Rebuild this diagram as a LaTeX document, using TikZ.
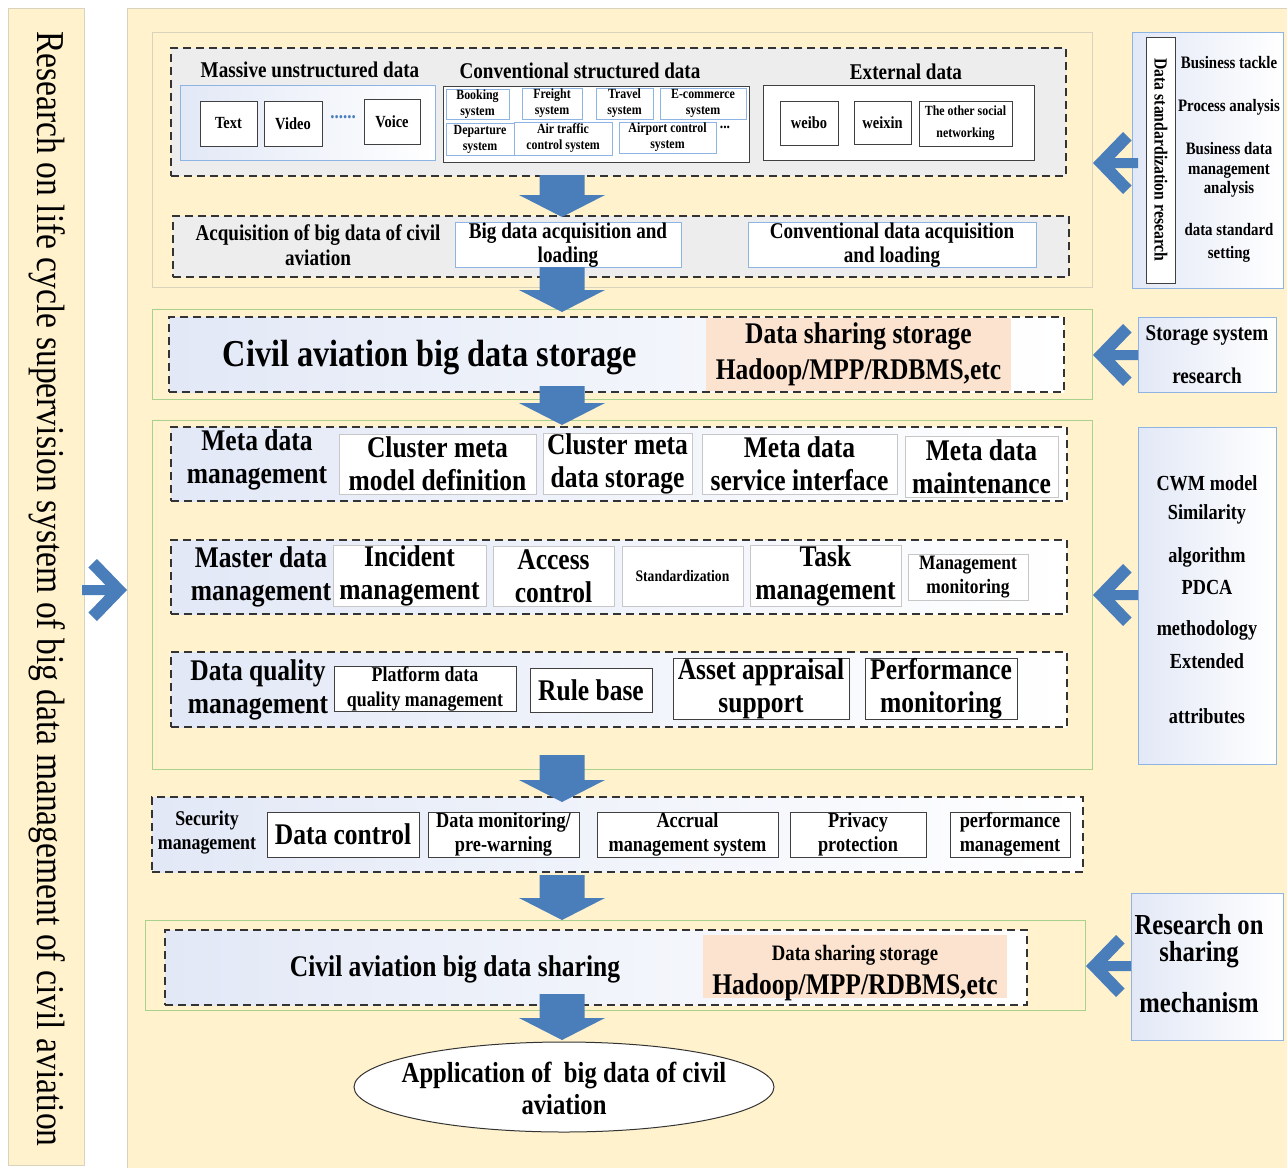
\documentclass[tikz,border=0pt]{standalone}
\usepackage{fontspec}
\setmainfont{Liberation Serif}[FakeStretch=0.85]
\usetikzlibrary{shapes.geometric}
\definecolor{ylw}{HTML}{FFF2CC}
\definecolor{ylwb}{HTML}{D9D2BC}
\definecolor{grn}{HTML}{A9D18E}
\definecolor{gpan}{HTML}{EDEDED}
\definecolor{arw}{HTML}{4A7EBB}
\definecolor{lbl}{HTML}{8EB4E3}
\definecolor{lav}{HTML}{E2E8F6}
\definecolor{pch}{HTML}{FBE3D0}
\newcommand\myfs[2]{\fontsize{#1}{#2}\selectfont\bfseries}
\newcommand\mybox[7]{\node[#6, minimum width={(#4-#2)*1pt}, minimum height={(#5-#3)*1pt}] (#1) at ({(#2+#4)/2},{(#3+#5)/2}) {#7};}
\newcommand\dnarrow[3]{\fill[arw] (#1-22.5,#2) -- (#1+22.5,#2) -- (#1+22.5,#3-22) -- (#1+43,#3-22) -- (#1,#3) -- (#1-43,#3-22) -- (#1-22.5,#3-22) -- cycle;}
\newcommand\chev[3]{\fill[arw, shift={(#1,#2)}, xscale=#3] (0,0) -- (30,-31) -- (38.6,-22.6) -- (21.6,-5) -- (45,-5) -- (45,5) -- (21.6,5) -- (38.6,22.6) -- (30,31) -- cycle;}
\tikzset{
  base/.style={inner sep=0pt, outer sep=0pt, align=center},
  txt/.style={base},
  panel/.style={base, draw=ylwb, fill=ylw, line width=0.8pt},
  grnsec/.style={base, draw=grn, line width=1pt},
  tansec/.style={base, draw=ylwb, line width=1pt},
  dashbox/.style={base, draw=black!80, line width=1.4pt, dash pattern=on 8pt off 5pt},
  graydash/.style={dashbox, fill=gpan},
  graddash/.style={dashbox, left color=lav, right color=white},
  wbox/.style={base, draw=black!22, fill=white, line width=0.8pt},
  kbox/.style={base, draw=black!75, fill=white, line width=1pt},
  bbox/.style={base, draw=lbl, fill=white, line width=1pt},
  gbbox/.style={base, draw=lbl, left color=lav, right color=white, line width=1pt},
  peach/.style={base, fill=pch},
}
\begin{document}
\begin{tikzpicture}[x=1pt,y=-1pt]
\useasboundingbox (0,0) rectangle (1287,1167);
\fill[white] (0,0) rectangle (1287,1167);
% panels
\mybox{strip}{8}{8}{84}{1165}{panel}{}
\node[txt, rotate=-90, font=\fontsize{39.5}{44}\selectfont] (striptxt) at (47,589) {Research on life cycle supervision system of big data management of civil aviation};
\mybox{main}{127}{8}{1290}{1170}{panel}{}
\chev{127}{590}{-1}
% ---------- section 1
\mybox{sec1}{152}{32}{1092}{287}{tansec}{}
\mybox{src}{171}{48}{1066}{176}{graydash}{}
\node[txt, font=\myfs{22.5}{25}] (hA) at (310,70) {Massive unstructured data};
\node[txt, font=\myfs{22.5}{25}] (hB) at (580,71) {Conventional structured data};
\node[txt, font=\myfs{22.5}{25}] (hC) at (906,72) {External data};
\mybox{grpA}{180}{85}{435}{160}{gbbox}{}
\mybox{bText}{200}{101}{257}{146}{kbox, font=\myfs{17}{20}}{Text}
\mybox{bVideo}{264}{101}{322}{146}{kbox, font=\myfs{17}{20}}{Video}
\mybox{bVoice}{364}{99}{420}{144}{kbox, font=\myfs{17}{20}}{Voice}
\node[txt, text=arw, font=\myfs{20}{20}] (dots) at (343,117) {......};
\mybox{grpB}{443}{86}{749}{162}{kbox}{}
\mybox{bBook}{446}{89}{509}{119}{bbox, font=\myfs{14}{16}}{Booking\\system}
\mybox{bFreight}{522}{88}{582}{119}{bbox, font=\myfs{14}{16}}{Freight\\system}
\mybox{bTravel}{596}{88}{653}{119}{bbox, font=\myfs{14}{16}}{Travel\\system}
\mybox{bEcom}{660}{88}{746}{119}{bbox, font=\myfs{14}{16}}{E-commerce\\system}
\mybox{bDep}{446}{123}{514}{155}{bbox, font=\myfs{14}{16}}{Departure\\system}
\mybox{bAir}{514}{122}{612}{155}{bbox, font=\myfs{14}{16}}{Air traffic\\control system}
\mybox{bAport}{619}{122}{716}{153}{bbox, font=\myfs{14}{16}}{Airport control\\system}
\node[txt, font=\myfs{16}{16}] (dots2) at (725,127) {...};
\mybox{grpC}{763}{85}{1034}{160}{kbox}{}
\mybox{bWeibo}{780}{101}{838}{145}{kbox, font=\myfs{17}{20}}{weibo}
\mybox{bWeixin}{854}{101}{911}{144}{kbox, font=\myfs{17}{20}}{weixin}
\mybox{bOther}{919}{101}{1012}{146}{kbox, font=\myfs{14}{22}}{The other social\\networking}
\mybox{acq}{173}{216}{1069}{277}{graydash}{}
\node[txt, font=\myfs{22.5}{25}] (acqL) at (318,245) {Acquisition of big data of civil\\aviation};
\mybox{bBig}{455}{223}{681}{267}{bbox, font=\myfs{22.5}{24}}{Big data acquisition and\\loading}
\mybox{bConv}{748}{223}{1036}{267}{bbox, font=\myfs{22.5}{24}}{Conventional data acquisition\\and loading}
% right panel 1
\mybox{rp1}{1132}{32}{1283}{288}{gbbox}{}
\mybox{rp1v}{1146}{37}{1175}{283}{kbox}{}
\node[txt, rotate=-90, font=\myfs{18.5}{20}] (rp1vt) at (1161,160) {Data standardization research};
\node[txt, font=\myfs{17.5}{20}] (r1a) at (1229,63) {Business tackle};
\node[txt, font=\myfs{17.5}{20}] (r1b) at (1229,107) {Process analysis};
\node[txt, font=\myfs{17.5}{19.5}] (r1c) at (1229,170) {Business data\\management\\analysis};
\node[txt, font=\myfs{17.5}{23}] (r1d) at (1229,243) {data standard\\setting};
\chev{1093}{163}{1}
% ---------- section 2
\mybox{sec2}{152}{309}{1092}{399}{grnsec}{}
\mybox{stor}{169}{317}{1064}{392}{graddash}{}
\node[txt, font=\myfs{38}{40}] (storT) at (430,358) {Civil aviation big data storage};
\mybox{storP}{706}{318}{1011}{391}{peach, font=\myfs{30}{36}}{Data sharing storage\\Hadoop/MPP/RDBMS,etc}
\mybox{rp2}{1138}{317}{1276}{392}{gbbox, font=\myfs{22.5}{43}}{Storage system\\research}
\chev{1093}{355}{1}
% ---------- section 3
\mybox{sec3}{152}{420}{1092}{769}{grnsec}{}
\mybox{meta}{171}{427}{1067}{501}{graddash}{}
\node[txt, font=\myfs{30}{33}] (metaL) at (257,460) {Meta data\\management};
\mybox{m1}{339}{434}{536}{494}{wbox, font=\myfs{30}{33}}{Cluster meta\\model definition}
\mybox{m2}{543}{434}{692}{494}{wbox, font=\myfs{30}{33}}{Cluster meta\\data storage}
\mybox{m3}{702}{434}{897}{494}{wbox, font=\myfs{30}{33}}{Meta data\\service interface}
\mybox{m4}{905}{436}{1058}{497}{wbox, font=\myfs{30}{33}}{Meta data\\maintenance}
\mybox{mast}{171}{540}{1067}{614}{graddash}{}
\node[txt, font=\myfs{30}{33}] (mastL) at (261,577) {Master data\\management};
\mybox{s1}{333}{546}{486}{606}{wbox, font=\myfs{30}{33}}{Incident\\management}
\mybox{s2}{493}{546}{614}{606}{wbox, font=\myfs{30}{33}}{Access\\control}
\mybox{s3}{622}{546}{743}{606}{wbox, font=\myfs{16}{18}}{Standardization}
\mybox{s4}{750}{550}{901}{602}{wbox, font=\myfs{30}{33}}{Task\\management}
\mybox{s5}{908}{554}{1028}{600}{wbox, font=\myfs{20.5}{24}}{Management\\monitoring}
\mybox{qual}{171}{652}{1067}{727}{graddash}{}
\node[txt, font=\myfs{30}{33}] (qualL) at (258,690) {Data quality\\management};
\mybox{q1}{334}{667}{516}{711}{kbox, font=\myfs{21}{25}}{Platform data\\quality management}
\mybox{q2}{530}{668}{652}{712}{kbox, font=\myfs{30}{33}}{Rule base}
\mybox{q3}{673}{658}{849}{719}{kbox, font=\myfs{30}{33}}{Asset appraisal\\support}
\mybox{q4}{865}{658}{1017}{719}{kbox, font=\myfs{30}{33}}{Performance\\monitoring}
\mybox{rp3}{1138}{427}{1276}{764}{gbbox}{}
\node[txt, font=\myfs{21.5}{24}] (c1) at (1207,483) {CWM model};
\node[txt, font=\myfs{21.5}{24}] (c2) at (1207,514) {Similarity};
\node[txt, font=\myfs{21.5}{24}] (c3) at (1207,557) {algorithm};
\node[txt, font=\myfs{21.5}{24}] (c4) at (1207,587) {PDCA};
\node[txt, font=\myfs{21.5}{24}] (c5) at (1207,630) {methodology};
\node[txt, font=\myfs{21.5}{24}] (c6) at (1207,661) {Extended};
\node[txt, font=\myfs{21.5}{24}] (c7) at (1207,716) {attributes};
\chev{1093}{595}{1}
% ---------- section 4
\mybox{sec4}{152}{797}{1083}{872}{graddash}{}
\node[txt, font=\myfs{21}{24}] (secL) at (207,833) {Security\\management};
\mybox{k1}{267}{812}{419}{857}{kbox, font=\myfs{30}{33}}{Data control}
\mybox{k2}{428}{812}{579}{857}{kbox, font=\myfs{21.5}{24}}{Data monitoring/\\pre-warning}
\mybox{k3}{597}{812}{778}{857}{kbox, font=\myfs{21.5}{24}}{Accrual\\management system}
\mybox{k4}{790}{812}{926}{857}{kbox, font=\myfs{21.5}{24}}{Privacy\\protection}
\mybox{k5}{950}{812}{1070}{857}{kbox, font=\myfs{21.5}{24}}{performance\\management}
% ---------- section 5
\mybox{sec5}{145}{920}{1085}{1010}{grnsec}{}
\mybox{shar}{165}{930}{1027}{1005}{graddash}{}
\node[txt, font=\myfs{30}{33}] (sharT) at (455,969) {Civil aviation big data sharing};
\mybox{sharP}{703}{935}{1007}{998}{peach}{}
\node[txt, font=\myfs{22}{24}] (sp1) at (855,955) {Data sharing storage};
\node[txt, font=\myfs{30}{33}] (sp2) at (855,987) {Hadoop/MPP/RDBMS,etc};
\mybox{rp5}{1131}{893}{1283}{1040}{gbbox}{}
\node[txt, font=\myfs{29}{27}] (r5a) at (1199,941) {Research on\\sharing};
\node[txt, font=\myfs{29}{27}] (r5b) at (1199,1003) {mechanism};
\chev{1086}{966}{1}
% ---------- application
\node[base, ellipse, draw=black!80, fill=white, line width=1pt, minimum width=420pt, minimum height=90pt] (app) at (564,1087) {};
\node[txt, font=\myfs{29}{32}] (appT) at (564,1088) {Application of~ big data of civil\\aviation};
% ---------- down arrows
\dnarrow{562}{175}{217}
\dnarrow{562}{267}{312}
\dnarrow{562}{386}{425}
\dnarrow{562}{755}{802}
\dnarrow{562}{875}{920}
\dnarrow{562}{994}{1040}
\end{tikzpicture}
\end{document}
